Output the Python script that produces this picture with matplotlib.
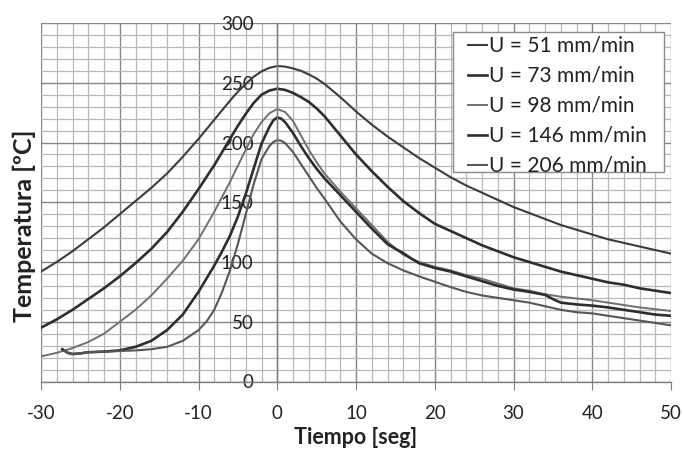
import matplotlib
matplotlib.use("Agg")
from matplotlib import pyplot as plt
from matplotlib.patches import Rectangle
from matplotlib.ticker import MultipleLocator

plt.rcParams['font.family'] = ['Lato', 'DejaVu Sans']
plt.rcParams['axes.unicode_minus'] = False

labels = ['U = 51 mm/min', 'U = 73 mm/min', 'U = 98 mm/min', 'U = 146 mm/min', 'U = 206 mm/min']

t_common = [-30, -28, -26, -24, -22, -20, -18, -16, -14, -12, -10, -8, -6, -5, -4, -3, -2, -1,
            0, 1, 2, 3, 4, 5, 6, 8, 10, 12, 14, 16, 18, 20, 22, 24, 26, 28, 30,
            32, 34, 36, 38, 40, 42, 44, 46, 48, 50]
T51 = [92, 100, 109, 119, 129, 140, 151, 162, 174, 188, 203, 219, 235, 242.5, 249, 255, 259.5, 262.5,
       264, 263.5, 262, 260, 257, 253.5, 249, 238, 226, 215, 205, 196, 187, 179, 171, 164, 158, 152, 146,
       141, 136, 131, 127, 123, 119, 116, 113, 110, 107]
T73 = [45, 52, 60, 69, 78, 88, 99, 111, 125, 142, 161, 181, 203, 214, 224, 233, 240, 243.5,
       245, 244, 241.5, 238, 234, 228.5, 222, 206, 190, 176, 163, 151, 141, 132, 126, 120, 114, 109, 104,
       100, 96, 92, 89, 86, 83, 81, 78, 76, 74]
T98 = [21, 24, 28, 33, 40, 50, 60, 72, 86, 101, 119, 142, 167, 180.5, 194, 207, 217, 224.5,
       228, 225.5, 218, 206, 194, 183.5, 174, 159, 145, 131, 117, 106, 100, 96, 93, 89, 86, 82, 78,
       76, 73, 71, 69.5, 68, 66, 64, 62, 60.5, 59]

t146 = [-27.3, -26.6, -26, -25, -24, -22, -20, -18, -16, -14, -12, -10, -8, -7, -6, -5, -4, -3, -2, -1, -0.5,
        0, 0.5, 1, 2, 3, 4, 5, 6, 8, 10, 12, 14, 15, 16, 17, 18, 20, 22, 24, 26, 28, 30, 32, 34,
        35, 36, 38, 40, 42, 44, 46, 48, 50]
T146 = [27, 24, 23, 23.5, 24.5, 25, 26, 29, 34, 43, 56, 75, 97, 109, 122, 138, 157, 178, 199, 213, 218.5,
        221, 220, 217, 208, 197, 187, 178, 170, 156, 142, 128, 115, 111, 107.5, 103, 99, 95, 92, 88, 84, 80, 77, 75, 72.5,
        69, 66, 64.5, 63.5, 62, 60, 58, 56, 55]

t206 = [-27, -26.3, -25, -24, -22, -20, -18, -16, -14, -12, -10, -9, -8, -7, -6, -5, -4, -3, -2, -1, -0.5,
        0, 0.5, 1, 2, 3, 4, 5, 6, 8, 10, 12, 14, 16, 18, 20, 22, 24, 26, 28, 30, 32, 34, 36, 38,
        40, 42, 44, 46, 48, 50]
T206 = [26, 23, 23.5, 24.5, 25, 25.5, 26, 27, 29, 34, 43, 50, 60, 75, 93, 115, 140, 165, 186, 197, 200.5,
        202, 201.5, 199.5, 192, 182, 172, 162, 153, 134, 119, 107, 99, 93, 88, 83.5, 79, 75, 72, 70, 68, 66, 63, 60, 58,
        57, 55, 53, 51, 49, 47]

series = [(t_common, T51), (t_common, T73), (t_common, T98), (t146, T146), (t206, T206)]
colors = ['#3c3c3c', '#2e2e2e', '#707070', '#2e2e2e', '#575757']
widths = [1.5, 1.9, 1.4, 1.9, 1.5]

fig = plt.figure(figsize=(6.83, 4.49), dpi=100)
ax = fig.add_axes([41 / 683, 1 - 381.5 / 449, 630 / 683, 358.5 / 449])

for (tt, TT), lab, c, w in zip(series, labels, colors, widths):
    ax.plot(tt, TT, color=c, lw=w, label=lab, solid_joinstyle='round')

ax.set_xlim(-30, 50)
ax.set_ylim(0, 300)
ax.xaxis.set_major_locator(MultipleLocator(10))
ax.xaxis.set_minor_locator(MultipleLocator(2))
ax.yaxis.set_major_locator(MultipleLocator(50))
ax.yaxis.set_minor_locator(MultipleLocator(10))
ax.grid(which='major', color='#858585', lw=1.0)
ax.grid(which='minor', color='#b8b8b8', lw=0.9)

for s in ['top', 'right']:
    ax.spines[s].set_visible(False)
ax.spines['left'].set_position(('data', 0))
ax.spines['left'].set_color('#808080')
ax.spines['bottom'].set_color('#808080')
ax.spines['left'].set_linewidth(1.0)
ax.spines['bottom'].set_linewidth(1.0)

ax.tick_params(axis='x', which='major', length=6, color='#808080', pad=11,
               labelsize=13.5, labelcolor='#222222')
ax.tick_params(axis='y', which='major', length=0, pad=17,
               labelsize=13.5, labelcolor='#222222')
ax.tick_params(which='minor', length=0)

fig.text(356 / 683, 1 - 438 / 449, 'Tiempo [seg]', ha='center', va='center',
         fontsize=15.5, fontweight='bold', color='#222222')
fig.text(24 / 683, 1 - 226 / 449, 'Temperatura [ºC]', ha='center', va='center',
         rotation=90, fontsize=18, fontweight='bold', color='#222222')

# legend box drawn separately: wide side padding, tight top/bottom
box = Rectangle((0.654, 0.585), 0.335, 0.391, transform=ax.transAxes,
                facecolor='white', edgecolor='#8a8a8a', lw=1.0, zorder=4)
ax.add_patch(box)
leg = ax.legend(loc='upper left', bbox_to_anchor=(0.678, 0.964), borderaxespad=0,
                frameon=False, fontsize=15, handlelength=0.9, handletextpad=0.1,
                labelspacing=0.48, borderpad=0)
leg.set_zorder(5)
for txt in leg.get_texts():
    txt.set_color('#222222')

fig.savefig('out.png', dpi=100)
